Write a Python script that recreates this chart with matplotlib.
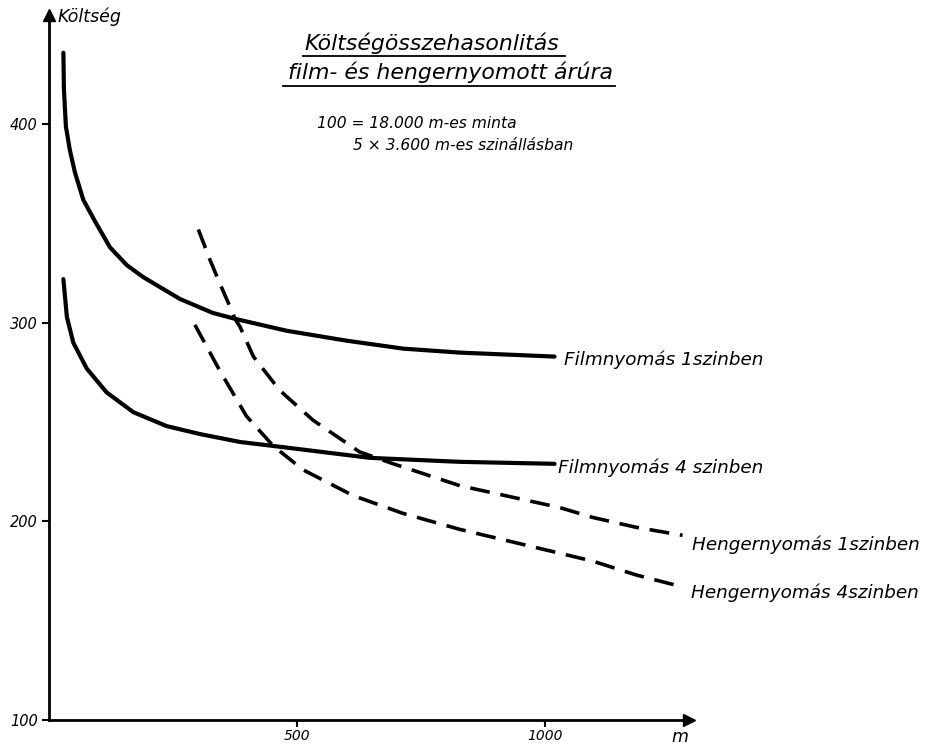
import matplotlib
matplotlib.use("Agg")
import matplotlib.pyplot as plt
from matplotlib.lines import Line2D

# ---- data ----
film1_x = [29, 30, 34, 42, 52, 69, 93, 123, 157, 190, 264, 330, 375, 479, 600, 714, 828, 1019]
film1_y = [436, 418, 399, 387, 376, 362, 351, 338, 329, 323, 312, 305, 302, 296, 291, 287, 285, 283]

film4_x = [29, 36, 49, 76, 116, 170, 237, 304, 385, 452, 647, 828, 1019]
film4_y = [322, 303, 290, 277, 265, 255, 248, 244, 240, 238, 232, 230, 229]

henger1_x = [301, 324, 344, 358, 375, 385, 412, 465, 532, 626, 694, 828, 1029, 1096, 1184, 1277]
henger1_y = [347, 332, 320, 312, 302, 298, 283, 266, 251, 235, 229, 218, 207, 202, 197, 193]

henger4_x = [294, 331, 344, 398, 452, 512, 613, 714, 828, 1029, 1096, 1184, 1277]
henger4_y = [299, 282, 276, 253, 238, 226, 213, 204, 196, 184, 180, 173, 167]

x_ticks = [500, 1000]
x_tick_labels = ["500", "1000"]
y_ticks = [100, 200, 300, 400]
y_tick_labels = ["100", "200", "300", "400"]

series_labels = ["Filmnyomás 1szinben", "Filmnyomás 4 szinben",
                 "Hengernyomás 1szinben", "Hengernyomás 4szinben"]
title_lines = ["Költségösszehasonlitás", "film- és hengernyomott árúra"]
note_lines = ["100 = 18.000 m-es minta", "5 × 3.600 m-es szinállásban"]
y_label = "Költség"
x_label = "m"

W, H = 941, 746
fig = plt.figure(figsize=(W / 100, H / 100), dpi=100)
ax = fig.add_axes([49 / W, (H - 720) / H, 640 / W, 705 / H])
ax.set_xlim(0, 1290)
ax.set_ylim(100, 455)

font = dict(family="DejaVu Sans", style="italic", color="black")

ax.plot(film1_x, film1_y, color="black", lw=3.0, solid_capstyle="round")
ax.plot(film4_x, film4_y, color="black", lw=3.0, solid_capstyle="round")
ax.plot(henger1_x, henger1_y, color="black", lw=2.6, linestyle=(0, (5.5, 3)))
ax.plot(henger4_x, henger4_y, color="black", lw=2.6, linestyle=(0, (5.5, 3)))

# axes look
for s in ["top", "right"]:
    ax.spines[s].set_visible(False)
for s in ["left", "bottom"]:
    ax.spines[s].set_linewidth(2)
ax.plot(1, 100, marker=">", color="black", markersize=9,
        transform=ax.get_yaxis_transform(), clip_on=False)
ax.plot(0, 1, marker="^", color="black", markersize=9,
        transform=ax.get_xaxis_transform(), clip_on=False)

ax.set_xticks(x_ticks)
ax.set_xticklabels(x_tick_labels, fontdict=dict(fontsize=10, style="italic"))
ax.set_yticks(y_ticks)
ax.set_yticklabels(y_tick_labels, fontdict=dict(fontsize=10.5, style="italic"))
ax.tick_params(axis="both", length=5, width=1.5, direction="out")
ax.tick_params(axis="x", pad=1.5)
ax.tick_params(axis="y", pad=3)

# line labels
ax.text(1039, 281.5, series_labels[0], fontsize=13.2, va="center", ha="left", **font)
ax.text(1025, 227, series_labels[1], fontsize=13.2, va="center", ha="left", **font)
ax.text(1297, 188.3, series_labels[2], fontsize=13.2, va="center", ha="left", **font)
ax.text(1295, 164, series_labels[3], fontsize=13.2, va="center", ha="left", **font)

# axis names
fig.text(58 / W, 1 - 17 / H, y_label, fontsize=12.5, va="center", ha="left", **font)
fig.text(680 / W, 1 - 737 / H, x_label, fontsize=12.5, va="center", ha="center", **font)

# title
fig.text(432 / W, 1 - 43 / H, title_lines[0], fontsize=15.8, va="center", ha="center", **font)
fig.text(450 / W, 1 - 72 / H, title_lines[1], fontsize=15.8, va="center", ha="center", **font)
fig.add_artist(Line2D([303 / W, 565 / W], [1 - 56 / H] * 2, color="black", lw=1.3))
fig.add_artist(Line2D([283 / W, 615 / W], [1 - 86 / H] * 2, color="black", lw=1.3))

fig.text(317 / W, 1 - 123 / H, note_lines[0], fontsize=11.2, va="center", ha="left", **font)
fig.text(353 / W, 1 - 145 / H, note_lines[1], fontsize=11.2, va="center", ha="left", **font)

fig.savefig("out.png", dpi=100)
